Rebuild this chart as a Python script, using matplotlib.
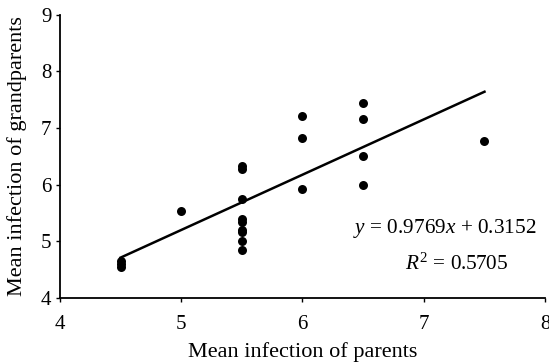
import matplotlib
matplotlib.use("Agg")
import matplotlib.pyplot as plt
import numpy as np

plt.rcParams['font.family'] = ['Liberation Serif', 'DejaVu Serif']
plt.rcParams['mathtext.fontset'] = 'custom'
plt.rcParams['mathtext.rm'] = 'Liberation Serif'
plt.rcParams['mathtext.it'] = 'Liberation Serif:italic'

# data
parents = [4.5, 4.5, 4.5,
           5.0,
           5.5, 5.5, 5.5, 5.5, 5.5, 5.5, 5.5, 5.5, 5.5,
           6.0, 6.0, 6.0,
           6.5, 6.5, 6.5, 6.5,
           7.5]
grandparents = [4.65, 4.60, 4.55,
                5.54,
                6.33, 6.28, 5.74, 5.40, 5.34, 5.20, 5.17, 5.01, 4.84,
                7.22, 6.83, 5.92,
                7.44, 7.16, 6.51, 5.99,
                6.77]
slope, intercept = 0.9769, 0.3152
fit_x = [4.5, 7.5]

fig = plt.figure(figsize=(5.49, 3.62), dpi=100)
ax = fig.add_axes([0.109, 0.177, 0.884, 0.782])

ax.scatter(parents, grandparents, s=42, color='black', zorder=3, linewidths=0)
fx = np.array(fit_x)
ax.plot(fx, slope * fx + intercept, color='black', lw=1.8)

ax.set_xlim(4, 8)
ax.set_ylim(4, 9)
ax.set_xticks([4, 5, 6, 7, 8])
ax.set_yticks([4, 5, 6, 7, 8, 9])
for s in ['top', 'right']:
    ax.spines[s].set_visible(False)
for s in ['left', 'bottom']:
    ax.spines[s].set_linewidth(1.3)
ax.tick_params(direction='out', length=3, width=1, labelsize=15, pad=3)
ax.tick_params(axis='x', pad=9)

ax.set_xlabel('Mean infection of parents', fontsize=16, labelpad=6)
ax.set_ylabel('Mean infection of grandparents', fontsize=16, labelpad=10)

ax.text(7.93, 5.22, r'$y$ = 0.9769$x$ + 0.3152', fontsize=15.3, ha='right', va='center')
ax.text(7.7, 4.59, r'$R^2$ = 0.5705', fontsize=15.3, ha='right', va='center')

fig.savefig('out.png', dpi=100)
